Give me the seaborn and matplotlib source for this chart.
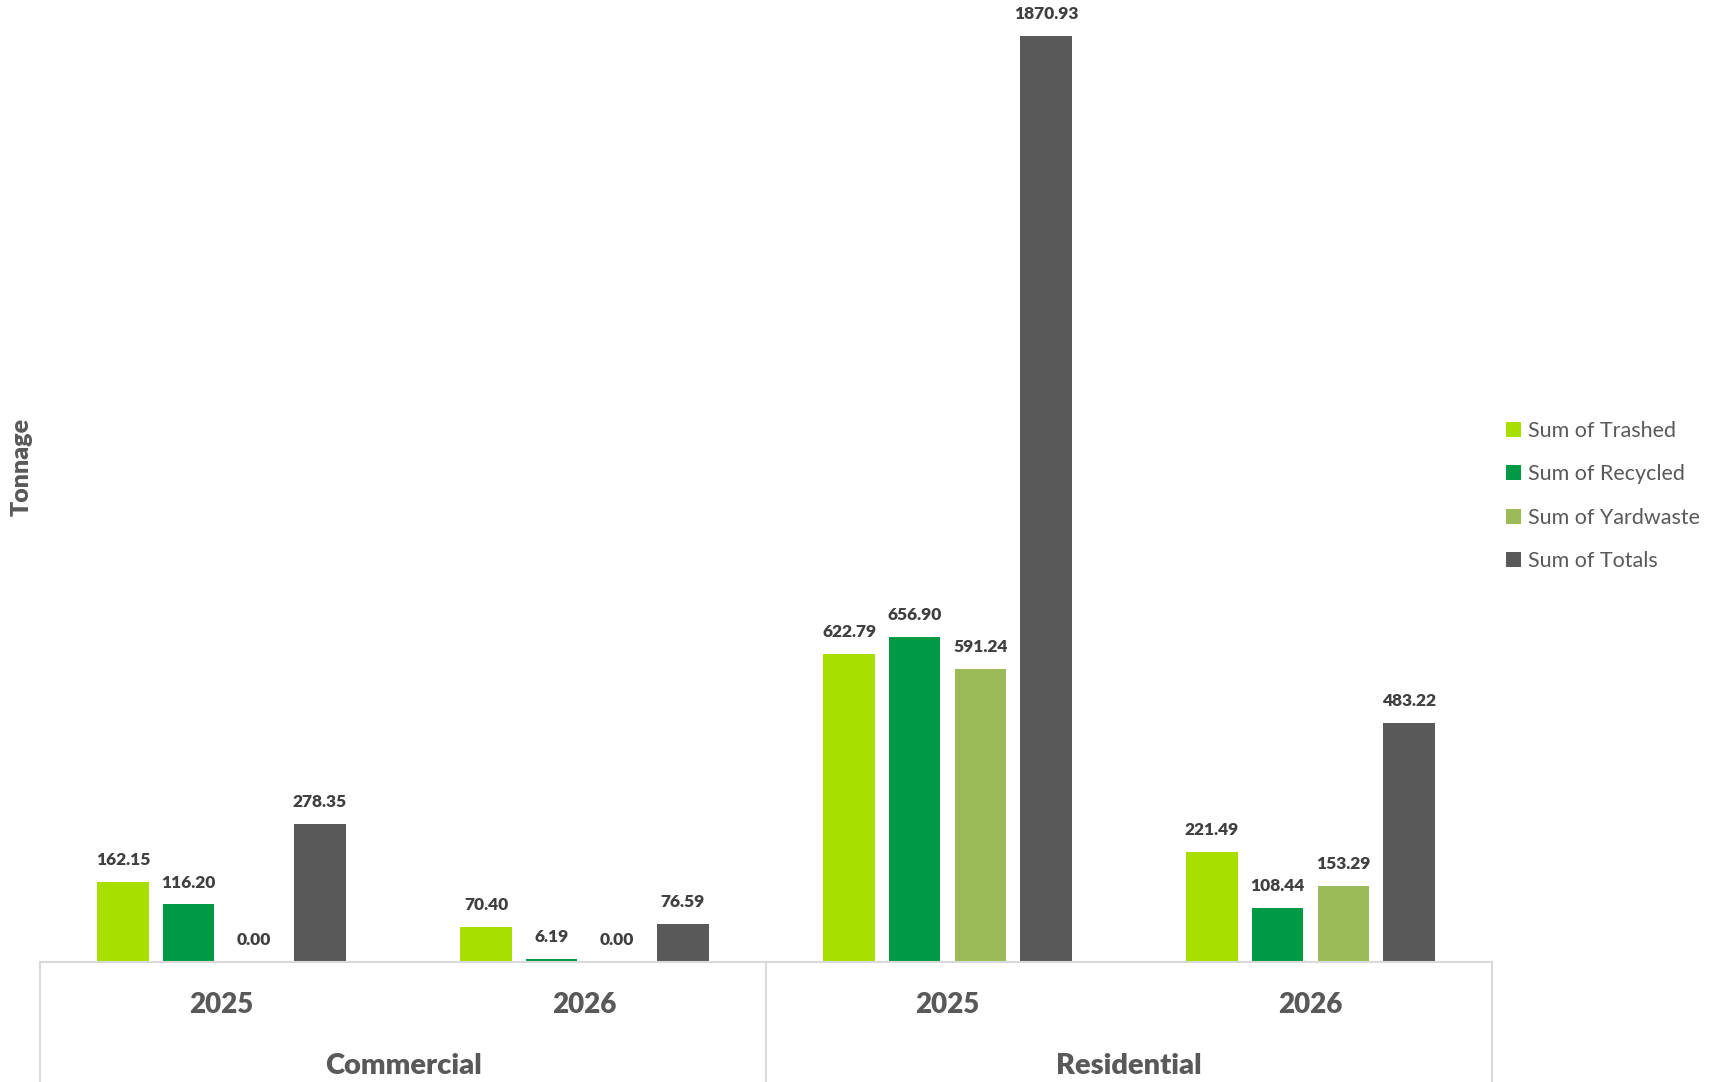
import matplotlib
matplotlib.use("Agg")
import matplotlib.pyplot as plt
import matplotlib.transforms as mtransforms
from matplotlib.lines import Line2D
import seaborn as sns
import pandas as pd

groups = ["Commercial", "Commercial", "Residential", "Residential"]
years = ["2025", "2026", "2025", "2026"]
series = ["Sum of Trashed", "Sum of Recycled", "Sum of Yardwaste", "Sum of Totals"]
trashed = [162.15, 70.40, 622.79, 221.49]
recycled = [116.20, 6.19, 656.90, 108.44]
yardwaste = [0.00, 0.00, 591.24, 153.29]
totals = [278.35, 76.59, 1870.93, 483.22]
colors = ["#A8DF00", "#009A44", "#9BBB59", "#595959"]

cats = [f"{g} {y}" for g, y in zip(groups, years)]
rows = []
for name, vals in zip(series, [trashed, recycled, yardwaste, totals]):
    for c, v in zip(cats, vals):
        rows.append({"cat": c, "series": name, "value": v})
df = pd.DataFrame(rows)

sns.set_theme(style="white")
plt.rcParams["font.family"] = ["Lato", "DejaVu Sans"]

fig = plt.figure(figsize=(17.14, 10.82), dpi=100)
ax = fig.add_axes([40 / 1714, 120 / 1082, (1492 - 40) / 1714, 962 / 1082])

sns.barplot(data=df, x="cat", y="value", hue="series", order=cats, hue_order=series,
            palette=colors, width=0.723, gap=0.216, linewidth=0, errorbar=None,
            saturation=1, ax=ax)

ax.set_xlim(-0.5, 3.5)
ax.set_ylim(0, 1943.7)
ax.set_xticks([])
ax.set_yticks([])
ax.set_xlabel("")
ax.set_ylabel("")
for s in ["top", "left", "right"]:
    ax.spines[s].set_visible(False)
ax.spines["bottom"].set_color("#D9D9D9")
ax.spines["bottom"].set_linewidth(1.5)

for cont in ax.containers:
    ax.bar_label(cont, fmt="%.2f", padding=10, fontsize=12.5, fontweight="heavy", color="#404040")

trans = mtransforms.blended_transform_factory(ax.transData, fig.transFigure)
for xv in [-0.5, 1.5, 3.5]:
    ax.add_line(Line2D([xv, xv], [0, 120 / 1082], transform=trans, color="#D9D9D9",
                       lw=1.5, clip_on=False))
for i, y in enumerate(years):
    ax.text(i, 1 - 1005 / 1082, y, transform=trans, ha="center", va="center",
            fontsize=20, fontweight="heavy", color="#595959")
for gi, g in enumerate(["Commercial", "Residential"]):
    ax.text(gi * 2 + 0.5, 1 - 1066 / 1082, g, transform=trans, ha="center", va="center",
            fontsize=21, fontweight="heavy", color="#595959")

fig.text(22 / 1714, 1 - 467 / 1082, "Tonnage", rotation=90, ha="center", va="center",
         fontsize=18, fontweight="heavy", color="#595959")

handles, labels = ax.get_legend_handles_labels()
ax.legend(handles, labels, loc="center left", bbox_to_anchor=(1506 / 1714, 1 - 496 / 1082),
          bbox_transform=fig.transFigure, frameon=False, fontsize=15.5,
          handlelength=0.7, handleheight=0.7, handletextpad=0.3, labelspacing=1.08,
          borderpad=0, borderaxespad=0, labelcolor="#595959")

fig.savefig("out.png", dpi=100)
